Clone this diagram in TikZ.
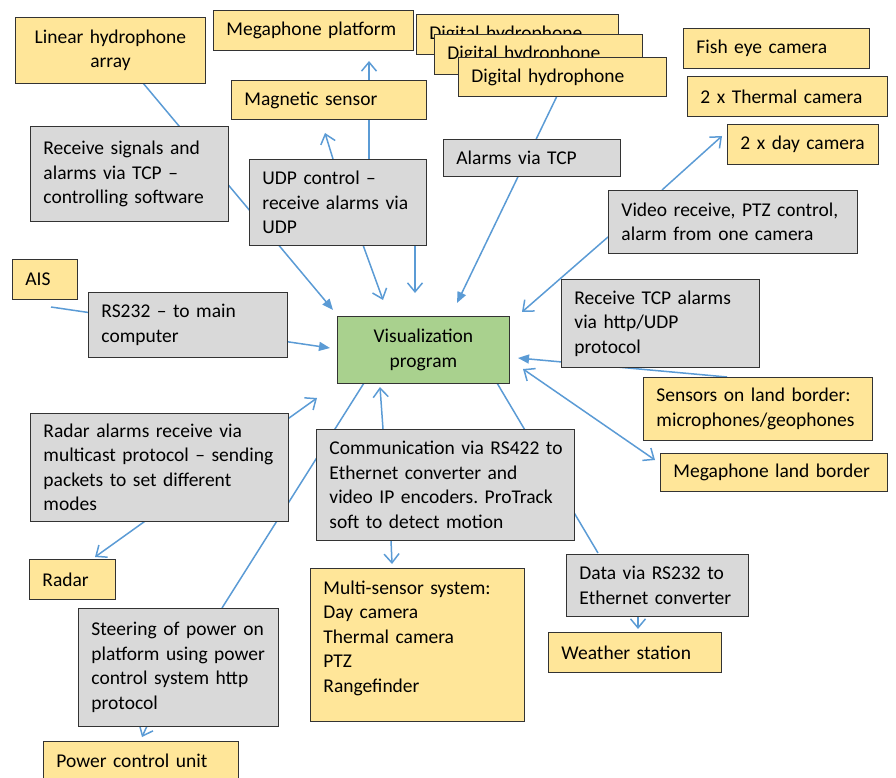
\documentclass[tikz,border=0pt]{standalone}
\usepackage{fontspec}
\setmainfont{Carlito}
\usetikzlibrary{arrows.meta}
\frenchspacing
\definecolor{yel}{HTML}{FFE699}
\definecolor{gry}{HTML}{D9D9D9}
\definecolor{grn}{HTML}{A9D18E}
\definecolor{blu}{HTML}{5B9BD5}
\pgfdeclarelayer{background}
\pgfsetlayers{background,main}
\tikzset{
  base/.style={draw=black!80, line width=0.9pt, anchor=north west, inner xsep=13pt, inner ysep=0pt, align=left, font=\fontsize{19.5}{24.5}\selectfont\frenchspacing},
  ybox/.style={base, fill=yel},
  gbox/.style={base, fill=gry},
  vbox/.style={base, fill=grn, align=center},
  conn/.style={draw=blu, line width=1.5pt},
  otip/.style={-{Straight Barb[length=9pt,width=15pt]}},
  ftip/.style={-{Triangle[length=11pt,width=9pt]}},
  dtip/.style={{Straight Barb[length=9pt,width=15pt]}-{Straight Barb[length=9pt,width=15pt]}}
}
\begin{document}
\begin{tikzpicture}[x=1pt,y=-1pt]
\useasboundingbox (0,0) rectangle (896,778);
% yellow boxes
\node[ybox, align=center, minimum width=190pt, minimum height=66pt, text width=164pt] (lha) at (15,17) {Linear hydrophone\\array};
\node[ybox, minimum width=200pt, minimum height=40pt, text width=174pt] (megp) at (213,10) {Megaphone platform};
\node[ybox, minimum width=195pt, minimum height=39pt, text width=169pt] (mag) at (231,80) {Magnetic sensor};
\node[ybox, minimum width=202pt, minimum height=40pt, text width=176pt] (dha) at (416,14) {Digital hydrophone};
\node[ybox, minimum width=208pt, minimum height=40pt, text width=182pt] (dhb) at (434,34) {Digital hydrophone};
\node[ybox, minimum width=208pt, minimum height=39pt, text width=182pt] (dhc) at (458,57) {Digital hydrophone};
\node[ybox, minimum width=186pt, minimum height=40pt, text width=160pt] (fish) at (683,28) {Fish eye camera};
\node[ybox, minimum width=200pt, minimum height=40pt, text width=174pt] (therm) at (687,76) {2 x Thermal camera};
\node[ybox, minimum width=151pt, minimum height=40pt, text width=125pt] (day) at (727,124) {2 x day camera};
\node[ybox, minimum width=229pt, minimum height=63pt, text width=203pt] (sens) at (643,377) {Sensors on land border:\\microphones/geophones};
\node[ybox, minimum width=227pt, minimum height=38pt, text width=201pt] (megl) at (660,453) {Megaphone land border};
\node[ybox, minimum width=65pt, minimum height=40pt, text width=39pt] (ais) at (12,259) {AIS};
\node[ybox, minimum width=86pt, minimum height=40pt, text width=60pt] (radar) at (29,559) {Radar};
\node[ybox, minimum width=214pt, minimum height=153pt, text width=188pt] (multi) at (310,568) {Multi-sensor system:\\Day camera\\Thermal camera\\PTZ\\Rangefinder\rule[-17pt]{0pt}{17pt}};
\node[ybox, minimum width=173pt, minimum height=40pt, text width=147pt] (weather) at (548,632) {Weather station};
\node[ybox, minimum width=195pt, minimum height=39pt, text width=169pt] (power) at (43,741) {Power control unit};
% grey boxes
\node[gbox, minimum width=198pt, minimum height=95pt, text width=172pt] (recv) at (30,126) {Receive signals and\\alarms via TCP --\\controlling software};
\node[gbox, minimum width=177pt, minimum height=86pt, text width=151pt] (udp) at (249,159) {UDP control --\\receive alarms via\\UDP};
\node[gbox, minimum width=177pt, minimum height=37pt, text width=151pt] (alarms) at (443,139) {Alarms via TCP};
\node[gbox, minimum width=249pt, minimum height=63pt, text width=223pt] (video) at (608,190) {Video receive, PTZ control,\\alarm from one camera};
\node[gbox, minimum width=198pt, minimum height=88pt, text width=172pt] (rtcp) at (561,279) {Receive TCP alarms\\via http/UDP\\protocol};
\node[gbox, minimum width=199pt, minimum height=65pt, text width=173pt] (rs) at (88,292) {RS232 -- to main\\computer};
\node[gbox, minimum width=258pt, minimum height=108pt, text width=232pt] (radalarm) at (30,413) {Radar alarms receive via\\\mbox{multicast protocol -- sending}\\packets to set different\\modes};
\node[gbox, minimum width=258pt, minimum height=111pt, text width=232pt] (comm) at (316,429) {\mbox{Communication via RS422 to}\\Ethernet converter and\\video IP encoders. ProTrack\\soft to detect motion};
\node[gbox, minimum width=182pt, minimum height=62pt, text width=156pt] (data) at (566,554) {Data via RS232 to\\Ethernet converter};
\node[gbox, minimum width=200pt, minimum height=118pt, text width=174pt] (steer) at (78,608) {Steering of power on\\platform using power\\control system http\\protocol};
% central
\node[vbox, minimum width=172pt, minimum height=67pt, text width=146pt] (vis) at (337,316) {Visualization\\program};
% connector ends
\coordinate (lhaS) at (143,83);   \coordinate (visA) at (333,310);
\coordinate (udpA) at (333,159);  \coordinate (magS) at (325,133);
\coordinate (udpB) at (369,159);  \coordinate (megpS) at (369,61);
\coordinate (udpC) at (363,245);  \coordinate (visB) at (383,300);
\coordinate (udpD) at (415,245);  \coordinate (visC) at (415,293);
\coordinate (dhcS) at (557,96);   \coordinate (visD) at (457,303);
\coordinate (videoN) at (662,190);\coordinate (dayW) at (722,136);
\coordinate (videoW) at (608,237);\coordinate (visE) at (522,312);
\coordinate (sensN) at (727,377); \coordinate (visF) at (518,358);
\coordinate (visG) at (523,369);  \coordinate (meglW) at (655,460);
\coordinate (aisS) at (51,307);   \coordinate (visH) at (330,348);
\coordinate (radarN) at (95,557); \coordinate (visI) at (317,398);
\coordinate (visJ) at (364,383);  \coordinate (steerN) at (222,608);
\coordinate (commN) at (383,429); \coordinate (visK) at (380,387);
\coordinate (visL) at (497,383);  \coordinate (dataN) at (598,553);
\coordinate (commS) at (391,540); \coordinate (multiN) at (392,564);
\coordinate (dataS) at (638,616); \coordinate (weatherN) at (638,629);
\coordinate (steerS) at (147,726);\coordinate (powerN) at (142,737);
\begin{pgfonlayer}{background}
\draw[conn, ftip] (lhaS) -- (visA);
\draw[conn, otip] (udpA) -- (magS);
\draw[conn, otip] (udpB) -- (megpS);
\draw[conn, otip] (udpC) -- (visB);
\draw[conn, otip] (udpD) -- (visC);
\draw[conn, ftip] (dhcS) -- (visD);
\draw[conn, otip] (videoN) -- (dayW);
\draw[conn, otip] (videoW) -- (visE);
\draw[conn, ftip] (sensN) -- (visF);
\draw[conn, dtip] (visG) -- (meglW);
\draw[conn, ftip] (aisS) -- (visH);
\draw[conn, dtip] (radarN) -- (visI);
\draw[conn] (visJ) -- (steerN);
\draw[conn, otip] (commN) -- (visK);
\draw[conn] (visL) -- (dataN);
\draw[conn, otip] (commS) -- (multiN);
\draw[conn, otip] (dataS) -- (weatherN);
\draw[conn, otip] (steerS) -- (powerN);
\end{pgfonlayer}
\end{tikzpicture}
\end{document}
